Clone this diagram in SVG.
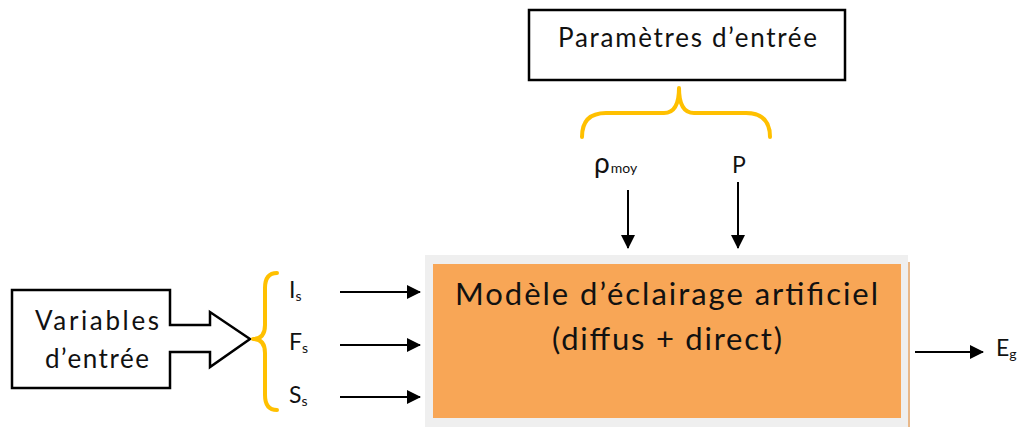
<svg xmlns="http://www.w3.org/2000/svg" width="1022" height="428" viewBox="0 0 1022 428">
<style>
text{font-family:Lato,"Open Sans","DejaVu Sans",sans-serif;fill:#111}
.box{fill:#fff;stroke:#000;stroke-width:2.5}
.brace{fill:none;stroke:#FFC000;stroke-width:4;stroke-linecap:round;stroke-linejoin:round}
.ar{stroke:#000;stroke-width:2;fill:none}
.lbl{font-size:23px}
.sub{font-size:14px}
</style>
<defs>
<marker id="ah" viewBox="0 0 14 14" refX="13" refY="7" markerWidth="14" markerHeight="14" markerUnits="userSpaceOnUse" orient="auto">
<path d="M0,0 L14,7 L0,14 Z" fill="#000"/>
</marker>
</defs>
<rect width="1022" height="428" fill="#fff"/>
<g id="params">
<rect class="box" x="529" y="10" width="316" height="70"/>
<text x="558" y="47" font-size="26" textLength="259" lengthAdjust="spacing">Paramètres d’entrée</text>
</g>
<g id="brace-top">
<path class="brace" d="M582,137 Q582,113 606,113 L664,113 Q679,113 679,88 Q679,113 694,113 L746,113 Q770,113 770,137"/>
</g>
<g id="rho">
<text x="594" y="173" font-size="28">ρ<tspan class="sub" font-size="13" dx="1">moy</tspan></text>
</g>
<g id="P">
<text x="732" y="173" class="lbl">P</text>
</g>
<g id="variables">
<path class="box" d="M12,290 L170,290 L170,325 L210,325 L210,312 L250,339 L210,367 L210,352 L170,352 L170,388 L12,388 Z"/>
<text x="35" y="330" font-size="26" textLength="124" lengthAdjust="spacing">Variables</text>
<text x="45" y="368" font-size="26" textLength="104" lengthAdjust="spacing">d’entrée</text>
</g>
<g id="brace-left">
<path class="brace" d="M277,273 Q265,273 265,288 L265,325 Q265,339 253,339 Q265,339 265,353 L265,395 Q265,410 277,410"/>
</g>
<g id="Is"><text x="289" y="298" class="lbl">I<tspan class="sub" dy="3">s</tspan></text></g>
<g id="Fs"><text x="289" y="350" class="lbl">F<tspan class="sub" dy="3">s</tspan></text></g>
<g id="Ss"><text x="289" y="403" class="lbl">S<tspan class="sub" dy="3">s</tspan></text></g>
<g id="model">
<rect x="425" y="255" width="483" height="172" fill="#EFEFEF"/>
<line x1="909" y1="262" x2="909" y2="427" stroke="#E8B88A" stroke-width="2"/>
<rect x="433" y="264" width="468" height="154" fill="#F8A656"/>
<text x="455" y="305" font-size="31" textLength="423" lengthAdjust="spacing">Modèle d’éclairage artificiel</text>
<text x="552" y="350" font-size="31" textLength="230" lengthAdjust="spacing">(diffus + direct)</text>
</g>
<g id="Eg"><text x="996" y="356" class="lbl">E<tspan class="sub" dy="3">g</tspan></text></g>
<g id="connectors">
<line class="ar" x1="340" y1="292" x2="420" y2="292" marker-end="url(#ah)"/>
<line class="ar" x1="340" y1="345" x2="420" y2="345" marker-end="url(#ah)"/>
<line class="ar" x1="340" y1="397" x2="420" y2="397" marker-end="url(#ah)"/>
<line class="ar" x1="628" y1="190" x2="628" y2="248" marker-end="url(#ah)"/>
<line class="ar" x1="738" y1="182" x2="738" y2="248" marker-end="url(#ah)"/>
<line class="ar" x1="915" y1="352" x2="983" y2="352" marker-end="url(#ah)"/>
</g>
</svg>
